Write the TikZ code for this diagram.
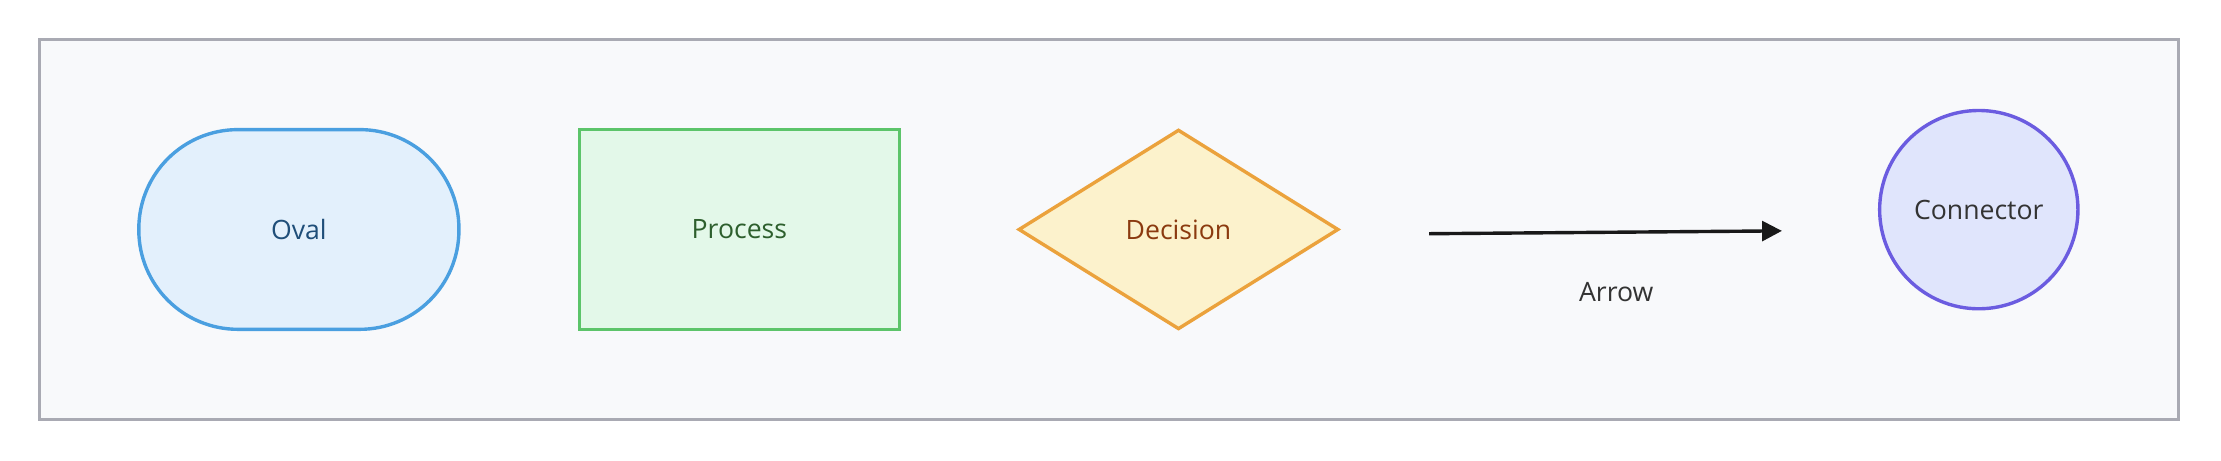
\documentclass[tikz,border=0pt]{standalone}
\usepackage{fontspec}
\setmainfont{Open Sans}
\usetikzlibrary{shapes.geometric,arrows.meta}
\definecolor{frameF}{HTML}{F8F9FB}\definecolor{frameD}{HTML}{A9AAB3}
\definecolor{ovF}{HTML}{E3F0FC}\definecolor{ovD}{HTML}{4A9FE0}\definecolor{ovT}{HTML}{1F4E79}
\definecolor{prF}{HTML}{E3F8E9}\definecolor{prD}{HTML}{5CC46A}\definecolor{prT}{HTML}{2D5F2D}
\definecolor{deF}{HTML}{FCF2CC}\definecolor{deD}{HTML}{EBA23C}\definecolor{deT}{HTML}{8B3A0F}
\definecolor{coF}{HTML}{E0E5FC}\definecolor{coD}{HTML}{6B5CE0}\definecolor{txt}{HTML}{333333}
\begin{document}
\begin{tikzpicture}[x=0.5pt,y=-0.5pt,font=\fontsize{9.4}{11}\selectfont,
  shp/.style={line width=1.2pt,inner sep=0pt}]
\useasboundingbox (0,0) rectangle (1568,325.4);
\node[draw=frameD,fill=frameF,line width=1.1pt,minimum width=755pt,minimum height=134pt,inner sep=0pt] (frame) at (783,162) {};
\node[shp,draw=ovD,fill=ovF,rounded corners=35pt,minimum width=113pt,minimum height=70.5pt,text=ovT] (oval) at (211,162) {Oval};
\node[shp,draw=prD,fill=prF,minimum width=113pt,minimum height=70.5pt,text=prT] (proc) at (522,162) {Process};
\node[shp,draw=deD,fill=deF,diamond,aspect=1.6,minimum width=113pt,minimum height=70.5pt,text=deT] (dec) at (832,162) {Decision};
\coordinate (a1) at (1009,165);
\coordinate (a2) at (1258,163);
\draw[line width=1.2pt,black!90,-{Stealth[length=7pt,width=7pt,inset=0pt]}] (a1) -- (a2);
\node[text=txt] (alab) at (1141,206) {Arrow};
\node[shp,draw=coD,fill=coF,circle,minimum size=70pt,text=txt] (conn) at (1397,148) {Connector};
\end{tikzpicture}
\end{document}
